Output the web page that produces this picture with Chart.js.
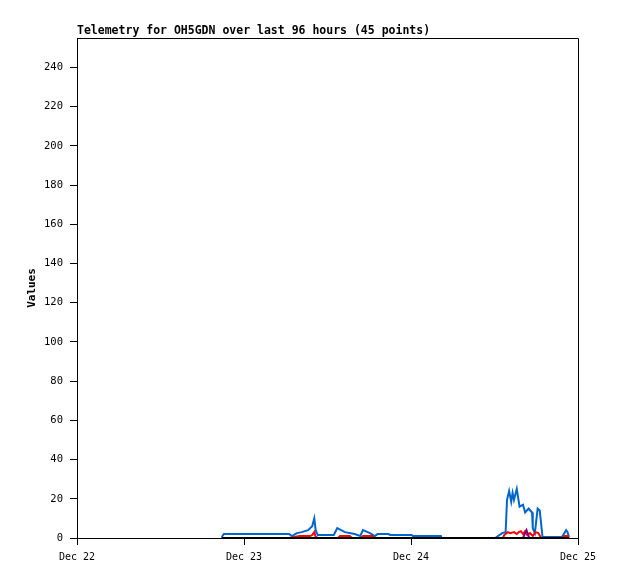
<!DOCTYPE html>
<html>
<head>
<meta charset="utf-8">
<script src="https://cdn.jsdelivr.net/npm/chart.js@4.4.1/dist/chart.umd.min.js"></script>
<style>
  body { margin: 0; background: #fff; }
  canvas { display: block; }
</style>
</head>
<body>
<canvas id="telemetry" width="618" height="579"></canvas>
<script>
// hours since Dec 22 00:00
var xTickLabels = ['Dec 22', 'Dec 23', 'Dec 24', 'Dec 25'];
var titleText = 'Telemetry for OH5GDN over last 96 hours (45 points)';

var blueHours = [20.8, 21.1, 30.5, 30.9, 31.6, 32.3, 33.2, 33.8, 34.1, 34.3, 34.6, 36.9, 37.4, 38.5, 39.9, 40.7, 41.1, 42.1, 42.8, 43.2, 44.8, 45.0, 48.1, 48.3, 52.3, 52.4, 60.1, 60.3, 61.1, 61.6, 61.8, 62.1, 62.4, 62.6, 62.8, 63.2, 63.6, 64.1, 64.4, 64.9, 65.4, 65.5, 65.8, 66.2, 66.5, 66.9, 69.7, 70.3, 70.5, 70.7];
var blueValues = [0.5, 2, 2, 1, 2.5, 3, 4, 6, 10, 4, 1.5, 1.5, 5, 3, 2, 1, 4, 2.5, 1, 2, 2, 1.5, 1.5, 1, 1, 0, 0, 0.5, 2.5, 3, 19.5, 24, 18.5, 23, 19.5, 25, 16, 17, 13, 15, 13, 5, 2.5, 15, 14, 0.5, 0.5, 4, 3, 0.5];

var redHours = [20.8, 30.5, 32.0, 33.5, 33.8, 34.1, 34.3, 34.6, 37.5, 37.8, 39.2, 39.5, 40.8, 41.1, 42.5, 42.8, 61.2, 61.4, 61.9, 62.3, 62.8, 63.2, 63.5, 63.8, 64.1, 64.4, 64.7, 65.1, 65.5, 65.9, 66.3, 66.7, 69.7, 70.1, 70.5, 70.7];
var redValues = [0, 0, 1, 1, 1.5, 3, 0.5, 0, 0, 1, 1, 0, 0, 1, 1, 0, 0, 1.5, 3, 2.5, 3, 2, 3, 3.5, 2, 3.5, 1.5, 2.5, 1, 3, 2.5, 0, 0, 1, 1, 0];

var purpleHours = [20.8, 64.1, 64.4, 64.6, 64.8, 65.0, 70.7];
var purpleValues = [0, 0, 2.5, 4, 2, 0, 0];

var blackHours = [20.8, 70.7];
var blackValues = [0, 0];

function points(hours, values) {
    return hours.map(function (h, i) {
        return { x: h, y: values[i] };
    });
}

// top and right edges of the plot frame, plus the title
var framePlugin = {
    id: 'frame',
    afterDraw: function (chart) {
        var ctx = chart.ctx;
        var a = chart.chartArea;
        ctx.save();
        ctx.strokeStyle = '#000';
        ctx.lineWidth = 1;
        ctx.beginPath();
        ctx.moveTo(a.left, a.top + 0.5);
        ctx.lineTo(a.right + 0.5, a.top + 0.5);
        ctx.lineTo(a.right + 0.5, a.bottom);
        ctx.stroke();
        ctx.fillStyle = '#000';
        ctx.font = 'bold 11.5px "DejaVu Sans Mono"';
        ctx.textBaseline = 'alphabetic';
        ctx.fillText(titleText, a.left, 34);
        ctx.restore();
    }
};

var ctx = document.getElementById('telemetry').getContext('2d');
new Chart(ctx, {
    type: 'line',
    data: {
        datasets: [
            { data: points(blueHours, blueValues), borderColor: '#0066cc', order: 3 },
            { data: points(redHours, redValues), borderColor: '#ff0000', order: 2 },
            { data: points(purpleHours, purpleValues), borderColor: '#800080', order: 1 },
            { data: points(blackHours, blackValues), borderColor: '#000000', order: 0 }
        ]
    },
    options: {
        responsive: false,
        animation: false,
        layout: { padding: { left: 0, top: 38, right: 40, bottom: 0 } },
        elements: {
            line: { borderWidth: 2, tension: 0 },
            point: { radius: 0 }
        },
        plugins: {
            legend: { display: false },
            tooltip: { enabled: false }
        },
        scales: {
            x: {
                type: 'linear',
                min: 0,
                max: 72,
                afterFit: function (s) { s.height = 41; },
                ticks: {
                    stepSize: 24,
                    color: '#000',
                    padding: 6,
                    maxRotation: 0,
                    font: { family: 'DejaVu Sans Mono', size: 10 },
                    callback: function (v) { return xTickLabels[v / 24]; }
                },
                grid: { drawOnChartArea: false, drawTicks: true, tickLength: 7, color: '#000' },
                border: { color: '#000' }
            },
            y: {
                min: 0,
                max: 255,
                afterFit: function (s) { s.width = 77; },
                afterBuildTicks: function (s) {
                    s.ticks = s.ticks.filter(function (t) { return t.value % 20 === 0; });
                },
                title: {
                    display: true,
                    text: 'Values',
                    color: '#000',
                    padding: { top: 26, bottom: 0 },
                    font: { family: 'DejaVu Sans Mono', size: 11, weight: 'bold' }
                },
                ticks: {
                    stepSize: 20,
                    color: '#000',
                    padding: 7,
                    font: { family: 'DejaVu Sans Mono', size: 10.5 }
                },
                grid: { drawOnChartArea: false, drawTicks: true, tickLength: 7, color: '#000' },
                border: { color: '#000' }
            }
        }
    },
    plugins: [framePlugin]
});
</script>
</body>
</html>
